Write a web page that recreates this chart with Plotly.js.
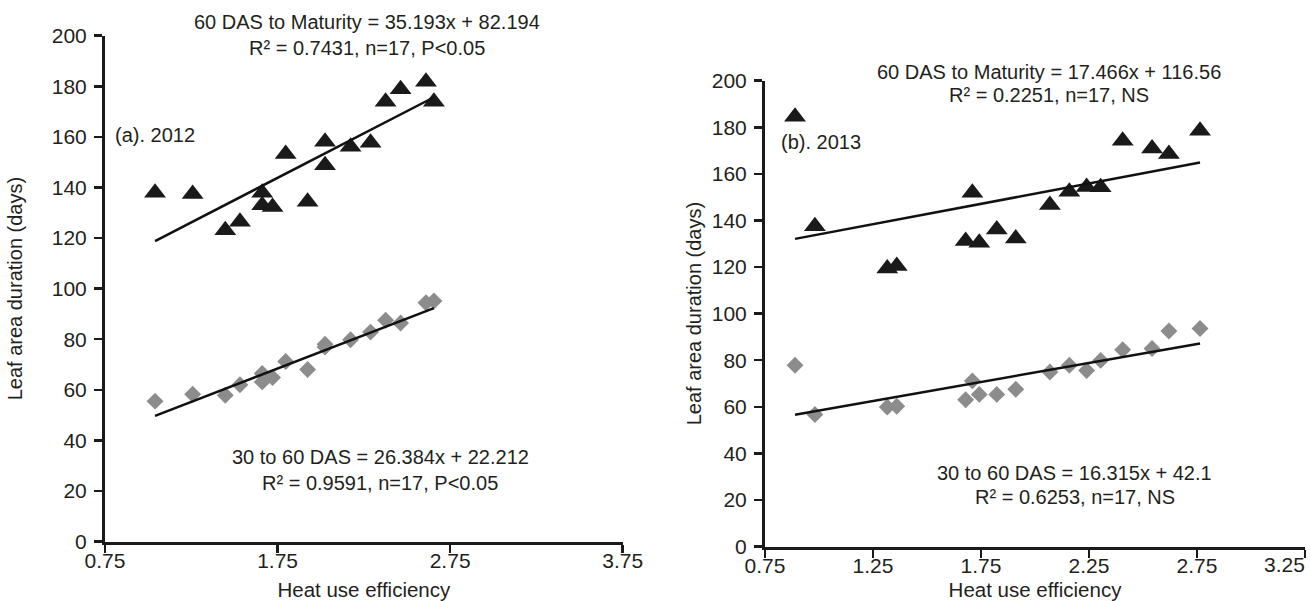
<!DOCTYPE html>
<html>
<head>
<meta charset="utf-8">
<script src="https://cdn.plot.ly/plotly-3.0.1.min.js"></script>
<style>html,body{margin:0;padding:0;background:#fff;}#chart{width:1310px;height:601px;}</style>
</head>
<body>
<div id="chart"></div>
<script>
// ---- Data ----
// (a) 2012
const hue2012 = [1.04, 1.258, 1.447, 1.532, 1.661, 1.661, 1.721, 1.797, 1.924, 2.025, 2.025, 2.173, 2.289, 2.376, 2.463, 2.61, 2.656];
const lad60toMat2012 = [137.9, 137.4, 123.1, 126.4, 137.9, 133.0, 132.3, 153.2, 134.3, 158.1, 148.8, 156.1, 157.7, 173.9, 178.8, 181.8, 173.9];
const lad30to60_2012 = [55.5, 58.2, 57.8, 62.0, 66.4, 63.1, 64.8, 71.2, 68.0, 78.0, 76.9, 79.8, 82.8, 87.5, 86.4, 94.4, 95.1];
// (b) 2013
const hue2013 = [0.889, 0.981, 1.316, 1.36, 1.679, 1.71, 1.742, 1.823, 1.911, 2.069, 2.159, 2.239, 2.304, 2.406, 2.542, 2.62, 2.764];
const lad60toMat2013 = [184.5, 137.5, 119.4, 120.4, 131.2, 151.9, 130.4, 136.1, 132.2, 146.6, 152.3, 154.4, 154.2, 174.2, 170.9, 168.5, 178.5];
const lad30to60_2013 = [77.8, 56.7, 59.9, 60.2, 63.0, 71.1, 65.3, 65.3, 67.5, 74.9, 77.8, 75.6, 79.9, 84.5, 85.0, 92.5, 93.6];
// Trendline coefficients [slope, intercept] as printed on the chart
const fit60toMat2012 = [35.193, 82.194];
const fit30to60_2012 = [26.384, 22.212];
const fit60toMat2013 = [17.466, 116.56];
const fit30to60_2013 = [16.315, 42.1];
// Tick values / labels
const xTicks2012 = [0.75, 1.75, 2.75, 3.75];
const xTickLabels2012 = ["0.75", "1.75", "2.75", "3.75"];
const xTicks2013 = [0.75, 1.25, 1.75, 2.25, 2.75, 3.25];
const xTickLabels2013 = ["0.75", "1.25", "1.75", "2.25", "2.75", "3.25"];
// Text
const eqTexts2012 = ["60 DAS to Maturity = 35.193x + 82.194", "R\u00b2 = 0.7431, n=17, P<0.05", "30 to 60 DAS = 26.384x + 22.212", "R\u00b2 = 0.9591, n=17, P<0.05"];
const eqTexts2013 = ["60 DAS to Maturity = 17.466x + 116.56", "R\u00b2 = 0.2251, n=17, NS", "30 to 60 DAS = 16.315x + 42.1", "R\u00b2 = 0.6253, n=17, NS"];
const panelLabels = ["(a). 2012", "(b). 2013"];
const xTitle = "Heat use efficiency";
const yTitle = "Leaf area duration (days)";

function fitLine(xs, coef) {
  const x0 = Math.min(...xs), x1 = Math.max(...xs);
  return {x: [x0, x1], y: [coef[0] * x0 + coef[1], coef[0] * x1 + coef[1]]};
}

const FONT = "Liberation Sans, Arial, Helvetica, sans-serif";
const TXT = "#231f20";
const triMarker = {symbol: "triangle-up", size: 19, color: "#1a1a1a"};
const diaMarker = {symbol: "diamond", size: 13, color: "#8c8c8c"};
const lineStyle = {color: "#111", width: 2.5};

const l1 = fitLine(hue2012, fit60toMat2012), l2 = fitLine(hue2012, fit30to60_2012);
const l3 = fitLine(hue2013, fit60toMat2013), l4 = fitLine(hue2013, fit30to60_2013);

const traces = [
  {x: hue2012, y: lad60toMat2012, mode: "markers", marker: triMarker, xaxis: "x", yaxis: "y", name: "60 DAS to Maturity 2012"},
  {x: hue2012, y: lad30to60_2012, mode: "markers", marker: diaMarker, xaxis: "x", yaxis: "y", name: "30 to 60 DAS 2012"},
  {x: l1.x, y: l1.y, mode: "lines", line: lineStyle, xaxis: "x", yaxis: "y", hoverinfo: "skip"},
  {x: l2.x, y: l2.y, mode: "lines", line: lineStyle, xaxis: "x", yaxis: "y", hoverinfo: "skip"},
  {x: hue2013, y: lad60toMat2013, mode: "markers", marker: triMarker, xaxis: "x2", yaxis: "y2", name: "60 DAS to Maturity 2013"},
  {x: hue2013, y: lad30to60_2013, mode: "markers", marker: diaMarker, xaxis: "x2", yaxis: "y2", name: "30 to 60 DAS 2013"},
  {x: l3.x, y: l3.y, mode: "lines", line: lineStyle, xaxis: "x2", yaxis: "y2", hoverinfo: "skip"},
  {x: l4.x, y: l4.y, mode: "lines", line: lineStyle, xaxis: "x2", yaxis: "y2", hoverinfo: "skip"}
];

const TICKSZ = 21;
const axBase = {
  showgrid: false, zeroline: false, showline: true, linecolor: "#1a1a1a", linewidth: 3,
  ticks: "outside", ticklen: 8, tickwidth: 2.5, tickcolor: "#1a1a1a",
  tickfont: {family: FONT, size: TICKSZ, color: TXT}, automargin: false, fixedrange: true
};

function ann(text, x, y, xanchor, size) {
  return {text: text, x: x, y: y, xref: "paper", yref: "paper", xanchor: xanchor || "center", yanchor: "middle",
          showarrow: false, font: {family: FONT, size: size || 20, color: TXT}};
}

// last right-panel tick label sits against the page edge: drawn as text shifted left, as in the reference
const lastLbl = xTickLabels2013[xTickLabels2013.length - 1];
const ticktext2013 = xTickLabels2013.map((t, i) => i === xTickLabels2013.length - 1 ? "" : t);

const layout = {
  width: 1310, height: 601,
  margin: {l: 0, r: 0, t: 0, b: 0},
  paper_bgcolor: "#fff", plot_bgcolor: "#fff",
  showlegend: false,
  font: {family: FONT, size: 20, color: TXT},
  xaxis: Object.assign({}, axBase, {domain: [105/1310, 622.7/1310], range: [0.75, 3.75], tickmode: "array",
          tickvals: xTicks2012, ticktext: xTickLabels2012, anchor: "y", ticklabelstandoff: -10, ticklabeloverflow: "allow",
          title: {text: xTitle, font: {family: FONT, size: 20.5, color: TXT}, standoff: 12}}),
  yaxis: Object.assign({}, axBase, {domain: [(601-541.5)/601, (601-35.7)/601], range: [0, 200], dtick: 20, anchor: "x",
          ticklabelstandoff: 3,
          title: {text: yTitle, font: {family: FONT, size: 20, color: TXT}, standoff: 24}}),
  xaxis2: Object.assign({}, axBase, {domain: [765/1310, 1305/1310], range: [0.75, 3.25], tickmode: "array",
          tickvals: xTicks2013, ticktext: ticktext2013, anchor: "y2", ticklabelstandoff: -10, ticklabeloverflow: "allow",
          title: {text: xTitle, font: {family: FONT, size: 20.5, color: TXT}, standoff: 12}}),
  yaxis2: Object.assign({}, axBase, {domain: [(601-546.5)/601, (601-80.7)/601], range: [0, 200], dtick: 20, anchor: "x2",
          ticklabelstandoff: 3,
          title: {text: yTitle, font: {family: FONT, size: 20, color: TXT}, standoff: 5}}),
  annotations: [
    ann(eqTexts2012[0], 367/1310, 1-22/601),
    ann(eqTexts2012[1], 367/1310, 1-48/601),
    ann(eqTexts2012[2], 380/1310, 1-456.7/601),
    ann(eqTexts2012[3], 380/1310, 1-482.7/601),
    ann(panelLabels[0], 113/1310, 1-135/601, "left"),
    ann(eqTexts2013[0], 1049/1310, 1-71.7/601),
    ann(eqTexts2013[1], 1049/1310, 1-95/601),
    ann(eqTexts2013[2], 1074/1310, 1-472.7/601),
    ann(eqTexts2013[3], 1075/1310, 1-497.3/601),
    ann(panelLabels[1], 779/1310, 1-141.7/601, "left"),
    ann(lastLbl, 1307/1310, 1-564/601, "right", TICKSZ)
  ]
};

Plotly.newPlot("chart", traces, layout, {staticPlot: true, displayModeBar: false});
</script>
</body>
</html>
